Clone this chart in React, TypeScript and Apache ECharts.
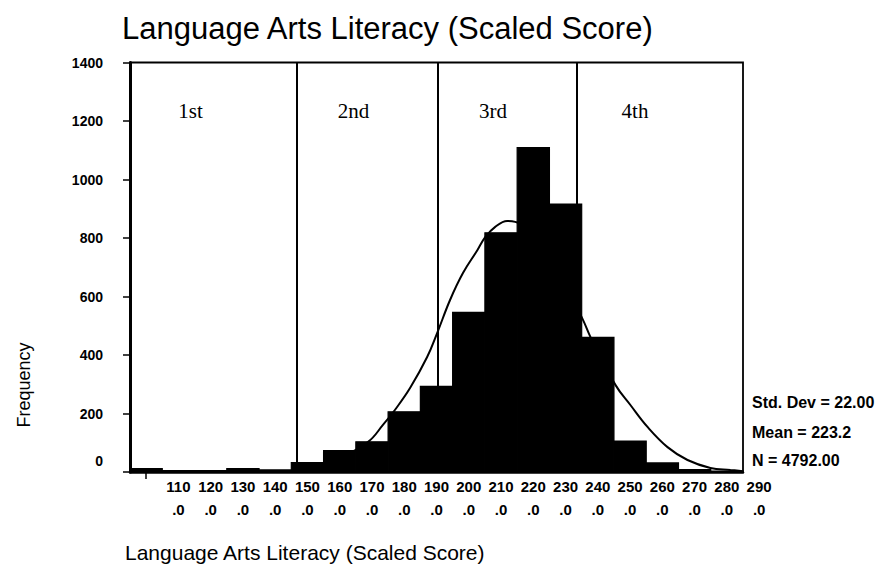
import React, { useEffect, useRef } from "react";
import * as echarts from "echarts";

// ---- data ----
const binCenters = [100, 110, 120, 130, 140, 150, 160, 170, 180, 190, 200, 210, 220, 230, 240, 250, 260, 270, 280];
const frequencies = [12, 5, 5, 12, 7, 32, 73, 103, 206, 293, 546, 818, 1109, 916, 460, 106, 31, 8, 3];
const BIN_WIDTH = 10;

// fitted normal curve
const curveScores = [150, 160, 168.8, 173.4, 177.1, 181.8, 187.1, 190.2, 194.2, 198.2, 202.7, 205.1, 208.2, 211.9, 214.4, 218, 222, 228, 235.4, 237.7, 245.5, 250.1, 255.4, 261.6, 267.8, 274.9, 281.1, 285];
const curveFreq = [15, 48, 103, 161, 212, 287, 393, 475, 588, 680, 759, 803, 838, 858, 855, 838, 790, 680, 520, 462, 297, 229, 154, 85, 41, 14, 7, 3];

// quartile cut scores
const cutScores = [146.6, 190.5, 233.6];
const quartileLabels = ["1st", "2nd", "3rd", "4th"];

const xLabelValues = [110, 120, 130, 140, 150, 160, 170, 180, 190, 200, 210, 220, 230, 240, 250, 260, 270, 280, 290];
const yMin = 0;
const yMax = 1400;
const yStep = 200;

const titleText = "Language Arts Literacy (Scaled Score)";
const xAxisTitle = "Language Arts Literacy (Scaled Score)";
const yAxisTitle = "Frequency";
const statsLines = ["Std. Dev = 22.00", "Mean = 223.2", "N = 4792.00"];

const SANS = "'Liberation Sans', Arial, Helvetica, sans-serif";
const SERIF = "'Liberation Serif', 'Times New Roman', serif";

export default function App() {
  const ref = useRef<HTMLDivElement>(null);

  useEffect(() => {
    if (!ref.current) return;
    const chart = echarts.init(ref.current, undefined, { renderer: "svg" });

    const gridLeft = 130;
    const gridTop = 62.5;
    const gridW = 613;
    const gridH = 409.5;
    const pxPerUnit = gridW / 190;

    const barData = binCenters.map((c, i) => [c, frequencies[i]]);
    const curveData = curveScores.map((s, i) => [s, curveFreq[i]]);

    const quartilePos = [190.5, 353.5, 493, 635];

    chart.setOption({
      animation: false,
      backgroundColor: "#fff",
      grid: [
        {
          left: gridLeft,
          top: gridTop,
          width: gridW,
          height: gridH,
          show: true,
          borderColor: "#000",
          borderWidth: 1.8,
          backgroundColor: "transparent",
        },
        {
          left: gridLeft - 5 * pxPerUnit,
          top: gridTop,
          width: 210 * pxPerUnit,
          height: gridH,
          show: false,
        },
      ],
      xAxis: [
        {
          type: "value",
          gridIndex: 0,
          min: 95,
          max: 285,
          axisLine: { show: true, lineStyle: { color: "#000", width: 2.5 } },
          axisTick: { show: true, customValues: [100], length: 7, lineStyle: { color: "#000", width: 1.5 } },
          axisLabel: { show: false },
          splitLine: { show: false },
        },
        {
          type: "value",
          gridIndex: 1,
          min: 90,
          max: 300,
          interval: 10,
          axisLine: { show: false },
          axisTick: { show: false },
          splitLine: { show: false },
          axisLabel: {
            show: true,
            margin: 3,
            color: "#000",
            fontFamily: SANS,
            fontSize: 15,
            fontWeight: "bold",
            lineHeight: 23,
            showMinLabel: true,
            showMaxLabel: true,
            formatter: (v: number) => (xLabelValues.includes(v) ? `${v}\n.0` : ""),
          },
        },
      ],
      yAxis: [
        {
          type: "value",
          gridIndex: 0,
          min: yMin,
          max: yMax,
          interval: yStep,
          axisLine: { show: true, lineStyle: { color: "#000", width: 3 } },
          axisTick: { show: true, length: 7, lineStyle: { color: "#000", width: 1.5 } },
          axisLabel: {
            color: "#000",
            fontFamily: SANS,
            fontSize: 14,
            fontWeight: "bold",
            margin: 27,
            formatter: (v: number) => (v === 0 ? "{z|0}" : String(v)),
            rich: {
              z: { fontFamily: SANS, fontSize: 14, fontWeight: "bold", color: "#000", padding: [0, 0, 22, 0] },
            },
          },
          splitLine: { show: false },
        },
        { type: "value", gridIndex: 1, min: yMin, max: yMax, show: false },
      ],
      series: [
        {
          type: "custom",
          xAxisIndex: 0,
          yAxisIndex: 0,
          data: barData,
          encode: { x: 0, y: 1 },
          renderItem: (_params: any, api: any) => {
            const c = api.value(0);
            const v = api.value(1);
            const p0 = api.coord([c - BIN_WIDTH / 2, v]);
            const p1 = api.coord([c + BIN_WIDTH / 2, 0]);
            return {
              type: "rect",
              shape: { x: p0[0], y: p0[1], width: p1[0] - p0[0], height: p1[1] - p0[1] },
              style: { fill: "#000", stroke: "#000", lineWidth: 1.2 },
            };
          },
          z: 2,
          markLine: {
            silent: true,
            symbol: ["none", "none"],
            label: { show: false },
            lineStyle: { color: "#000", width: 2, type: "solid" },
            data: cutScores.map((s) => ({ xAxis: s })),
          },
        },
        {
          type: "line",
          xAxisIndex: 0,
          yAxisIndex: 0,
          data: curveData,
          smooth: 0.4,
          symbol: "none",
          lineStyle: { color: "#000", width: 2 },
          z: 3,
        },
      ],
      graphic: [
        {
          type: "text",
          left: 122,
          top: 13,
          style: { text: titleText, font: `31px ${SANS}`, fill: "#000" },
        },
        {
          type: "text",
          x: 24,
          y: 385,
          rotation: Math.PI / 2,
          style: { text: yAxisTitle, font: `18px ${SANS}`, fill: "#000", align: "center", verticalAlign: "middle" },
        },
        {
          type: "text",
          x: 125,
          y: 552,
          style: { text: xAxisTitle, font: `21px ${SANS}`, fill: "#000", verticalAlign: "middle" },
        },
        ...statsLines.map((t, i) => ({
          type: "text",
          x: 752,
          y: [402, 432, 460][i],
          style: { text: t, font: `bold 16px ${SANS}`, fill: "#000", verticalAlign: "middle" },
        })),
        ...quartileLabels.map((t, i) => ({
          type: "text",
          x: quartilePos[i],
          y: 111,
          style: { text: t, font: `21px ${SERIF}`, fill: "#000", align: "center", verticalAlign: "middle" },
        })),
      ],
    });

    return () => chart.dispose();
  }, []);

  return (
    <div
      ref={ref}
      style={{ position: "fixed", left: 0, top: 0, width: 886, height: 578, background: "#fff" }}
    />
  );
}
